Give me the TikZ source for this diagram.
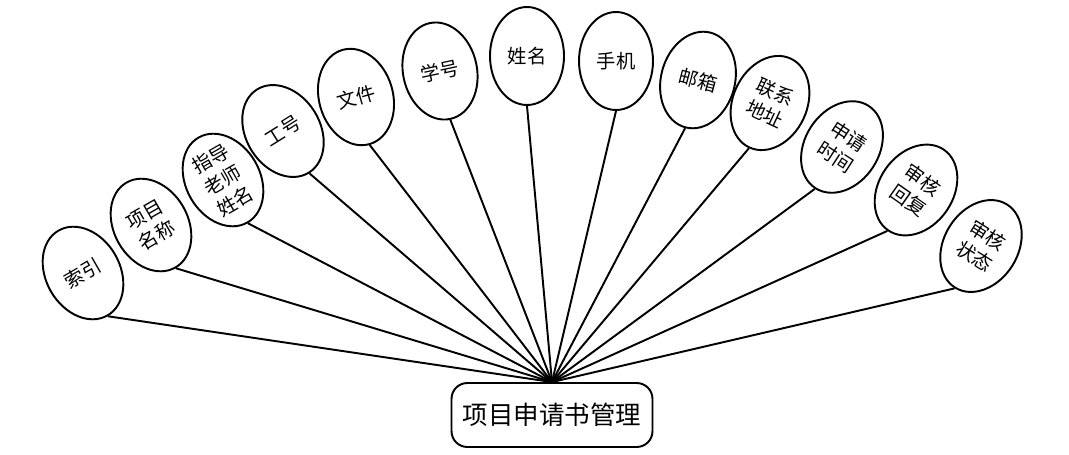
\documentclass[tikz,border=0pt]{standalone}
\usepackage{fontspec}
\newfontfamily\cjk{Noto Sans CJK SC}
\usetikzlibrary{shapes.geometric}

\begin{document}
\begin{tikzpicture}[x=0.02cm,y=-0.02cm,
  attr/.style={ellipse,draw,line width=1.1pt,minimum width=1.48cm,minimum height=1.96cm,
    inner sep=0pt,align=center,font=\cjk\fontsize{11}{14}\selectfont},
  link/.style={line width=1.1pt}]
\useasboundingbox (0,0) rectangle (1069,454);
\node[draw,line width=1.1pt,rounded corners=9pt,minimum width=4.02cm,minimum height=1.28cm,
  font=\cjk\fontsize{14.5}{17}\selectfont] (guanli) at (552,415) {项目申请书管理};
\node[attr,rotate=30] (suoyin) at (83,273) {索引};
\node[attr,rotate=30] (mingcheng) at (151,225) {项目\\名称};
\node[attr,rotate=30] (laoshi) at (223,180) {指导\\老师\\姓名};
\node[attr,rotate=32] (gonghao) at (283,131) {工号};
\node[attr,rotate=16] (wenjian) at (356,97) {文件};
\node[attr,rotate=12] (xuehao) at (440,71) {学号};
\node[attr] (xingming) at (527,56) {姓名};
\node[attr] (shouji) at (616,61) {手机};
\node[attr,rotate=-15] (youxiang) at (698,80) {邮箱};
\node[attr,rotate=-25] (dizhi) at (770,103) {联系\\地址};
\node[attr,rotate=-33] (shijian) at (842,147) {申请\\时间};
\node[attr,rotate=-35] (huifu) at (916,190) {审核\\回复};
\node[attr,rotate=-32] (zhuangtai) at (981,246) {审核\\状态};
% connectors to the centre box
\foreach \n in {suoyin,mingcheng,laoshi,gonghao,wenjian,xuehao,xingming,shouji,youxiang,dizhi,shijian,huifu,zhuangtai}
  \draw[link] (\n.south) -- (guanli.north);
\end{tikzpicture}
\end{document}
